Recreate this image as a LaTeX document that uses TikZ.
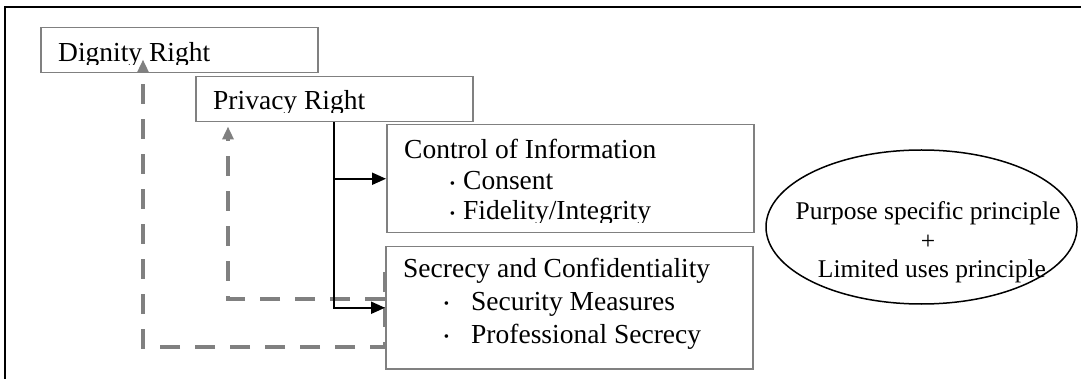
\documentclass[tikz,border=0pt]{standalone}
\usepackage{fontspec}
\setmainfont{Liberation Serif}
\usetikzlibrary{arrows.meta,shapes.geometric,calc}
\definecolor{boxgray}{RGB}{128,128,128}

\tikzset{
    box/.style={draw=boxgray, line width=1.5pt, rectangle, anchor=north west, inner sep=0pt},
    txt/.style={anchor=base west, inner sep=0pt, font=\fontsize{27.5}{31}\selectfont},
    etxt/.style={anchor=base, inner sep=0pt, font=\fontsize{25.5}{29}\selectfont},
    link/.style={line width=2pt, -{Triangle[length=14pt,width=12pt]}},
    back/.style={draw=boxgray, line width=4.5pt, dash pattern=on 20pt off 15pt,
        -{Triangle[length=13pt,width=11pt]}},
}
\newcommand{\bul}[1]{\llap{\raisebox{1.5pt}{\fontsize{15}{15}\selectfont •}\hspace{#1}}}

\begin{document}
\begin{tikzpicture}[x=1pt,y=-1pt]
        \useasboundingbox (0,0) rectangle (1081,379);
        \draw[line width=2pt] (5,379) |- (1081,7);

        \node[box, minimum width=277pt, minimum height=45pt] (dignity) at (40,27) {};
        \node[box, minimum width=277pt, minimum height=45pt] (privacy) at (195,76) {};
        \node[box, minimum width=367pt, minimum height=108pt] (control) at (386,124) {};
        \node[box, minimum width=367pt, minimum height=122pt] (secrecy) at (385,246) {};
        \node[draw, ellipse, line width=1.5pt, minimum width=311pt, minimum height=154pt,
            inner sep=0pt] (purpose) at (921.5,227) {};

        % texts, cut at the bottom like the boxes do
        \begin{scope}
            \clip (dignity.north west) rectangle ($(dignity.south east)+(0,-8.5)$);
            \node[txt] (dignitytxt) at (58,62) {Dignity Right};
        \end{scope}
        \begin{scope}
            \clip (privacy.north west) rectangle ($(privacy.south east)+(0,-10)$);
            \node[txt] (privacytxt) at (213,110) {Privacy Right};
        \end{scope}
        \begin{scope}
            \clip (control.north west) rectangle ($(control.south east)+(0,-11)$);
            \node[txt] (controltxt) at (404,159) {Control of Information};
            \node[txt] (consent) at (463,190) {\bul{8pt}Consent};
            \node[txt] (fidelity) at (463,220) {\bul{8pt}Fidelity/Integrity};
        \end{scope}
        \node[txt] (secrecytxt) at (403,278) {Secrecy and Confidentiality};
        \node[txt] (security) at (471,310) {\bul{22pt}Security Measures};
        \node[txt] (professional) at (471,343) {\bul{22pt}Professional Secrecy};

        \node[etxt] (purposetxt) at (928,220) {Purpose specific principle};
        \node[etxt] (plus) at (928,250) {+};
        \node[etxt] (limited) at (932,278) {Limited uses principle};

        % dashed links back up
        \coordinate (dstart) at ($(secrecy.north west)+(0,26)$);
        \coordinate (dtip) at ($(dignity.south west)+(103,-14)$);
        \coordinate (pstart) at ($(secrecy.west)+(0,-9)$);
        \coordinate (ptip) at ($(privacy.south west)+(33,4)$);
        \draw[back] (dstart) -- ++(0,75) -| (dtip);
        \draw[back] (pstart) -| (ptip);

        \draw[link] (privacy.south) |- (control.west);
        \draw[link] (privacy.south) |- (secrecy.west);
\end{tikzpicture}
\end{document}
